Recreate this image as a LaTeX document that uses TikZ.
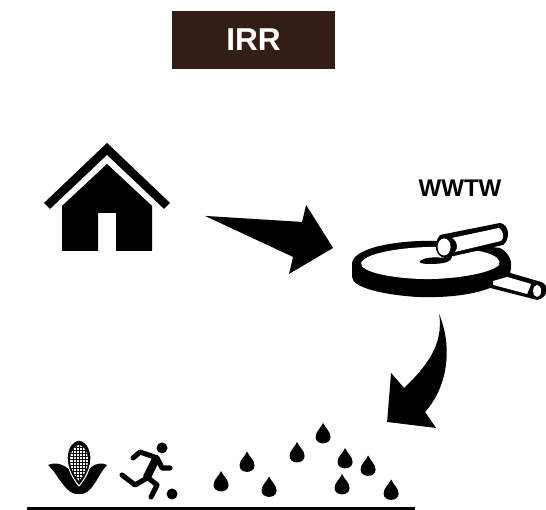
\documentclass[tikz,border=0pt]{standalone}
\usepackage{fontspec}
\setmainfont{Liberation Sans}
\definecolor{brownbox}{RGB}{51,30,22}
\newcommand{\px}[2]{({#1*0.02},{(510-#2)*0.02})}
\tikzset{
  titlebox/.style={fill=brownbox,text=white,font=\bfseries\fontsize{18}{18}\selectfont,minimum width=3.26cm,minimum height=1.16cm,inner sep=0pt},
  tag/.style={font=\bfseries\fontsize{13.7}{14}\selectfont,text=black,inner sep=0pt},
  limb/.style={draw=black,line width=2.9pt,line cap=round,line join=round},
  drop/.pic={\fill[black] (0,0.21) .. controls (0.04,0.11) and (0.15,0.04) .. (0.15,-0.07) .. controls (0.15,-0.24) and (-0.15,-0.24) .. (-0.15,-0.07) .. controls (-0.15,0.04) and (-0.04,0.11) .. (0,0.21) -- cycle;}
}
\begin{document}
\begin{tikzpicture}[x=1cm,y=1cm]
\useasboundingbox (0,0) rectangle (10.92,10.2);
\node[titlebox] (title) at (5.07,9.4) {IRR};
\node[tag] (wwtw) at (9.2,6.44) {WWTW};
% house
\fill[black] \px{44}{203} -- \px{107}{143} -- \px{170}{203} -- \px{164}{209} -- \px{107}{155} -- \px{50}{209} -- cycle;
\fill[black] \px{62}{206} -- \px{107}{164} -- \px{152}{206} -- \px{152}{251} -- \px{116}{251} -- \px{116}{213} -- \px{98}{213} -- \px{98}{251} -- \px{62}{251} -- cycle;
% arrow 1
\fill[black] \px{205}{216} -- \px{302}{222} -- \px{306}{205} -- \px{333}{248} -- \px{289}{274} -- \px{293}{257} -- cycle;
% tank
\fill[black] \px{352}{263} .. controls \px{354}{247} and \px{400}{240} .. \px{436}{241} -- \px{500}{248} .. controls \px{510}{254} and \px{513}{262} .. \px{510}{273} -- \px{541}{282} .. controls \px{548}{284} and \px{550}{297} .. \px{537}{300} -- \px{490}{288} .. controls \px{470}{296} and \px{440}{298} .. \px{417}{297} .. controls \px{385}{295} and \px{352}{288} .. \px{352}{277} -- cycle;
\fill[white] \px{361}{263} .. controls \px{365}{252} and \px{410}{246} .. \px{445}{247} .. controls \px{480}{249} and \px{503}{255} .. \px{499}{265} .. controls \px{490}{274} and \px{450}{280} .. \px{420}{279} .. controls \px{390}{278} and \px{360}{272} .. \px{361}{263} -- cycle;
% inlet pipe
\fill[black] \px{440}{235} .. controls \px{432}{245} and \px{436}{257} .. \px{445}{258} -- \px{503}{245} .. controls \px{510}{240} and \px{510}{225} .. \px{500}{223} -- cycle;
\fill[white] \px{452}{238} -- \px{499}{228} .. controls \px{504}{232} and \px{504}{238} .. \px{501}{241} -- \px{455}{252} .. controls \px{458}{248} and \px{458}{242} .. \px{452}{238} -- cycle;
\fill[white] \px{444}{247} ellipse [x radius=0.13,y radius=0.17];
\fill[black] \px{420}{261} .. controls \px{425}{257} and \px{435}{257} .. \px{445}{258} -- \px{452}{255} .. controls \px{452}{262} and \px{445}{264} .. \px{430}{264} .. controls \px{422}{264} and \px{418}{263} .. \px{420}{261} -- cycle;
% outlet pipe
\fill[white] \px{493}{281} -- \px{507}{277} -- \px{531}{284} -- \px{527}{294} -- \px{493}{285} -- cycle;
\fill[white] \px{537}{291} ellipse [x radius=0.08,y radius=0.12];
% arrow 2
\fill[black] \px{439}{314} .. controls \px{452}{345} and \px{449}{385} .. \px{425}{412} -- \px{436}{428} -- \px{387}{422} -- \px{391}{373} -- \px{404}{388} .. controls \px{425}{368} and \px{444}{345} .. \px{439}{314} -- cycle;
% corn leaves
\fill[black] \px{48}{465} .. controls \px{60}{460} and \px{72}{468} .. \px{79}{484} -- \px{79}{494} .. controls \px{66}{496} and \px{58}{474} .. \px{48}{465} -- cycle;
\fill[black] \px{107}{465} .. controls \px{97}{460} and \px{86}{468} .. \px{79}{484} -- \px{79}{494} .. controls \px{92}{496} and \px{98}{474} .. \px{107}{465} -- cycle;
% corn ear
\fill[black,draw=white,line width=0.6pt] \px{79}{440} .. controls \px{68}{441} and \px{59}{462} .. \px{79}{486} .. controls \px{99}{462} and \px{90}{441} .. \px{79}{440} -- cycle;
\fill[white] \px{79}{445} .. controls \px{72}{446} and \px{63}{462} .. \px{79}{481} .. controls \px{95}{462} and \px{86}{446} .. \px{79}{445} -- cycle;
\begin{scope}
\clip \px{79}{445} .. controls \px{72}{446} and \px{63}{462} .. \px{79}{481} .. controls \px{95}{462} and \px{86}{446} .. \px{79}{445} -- cycle;
\foreach \yy in {447,450,...,480} \draw[black,line width=0.3pt] \px{66}{\yy} -- \px{92}{\yy};
\foreach \xx in {73,76,79,82,85} \draw[black,line width=0.3pt] \px{\xx}{445} -- \px{\xx}{481};
\end{scope}
% runner
\fill[black] \px{162}{448} circle (0.11);
\draw[limb] \px{133}{458} -- \px{140}{452} -- \px{157}{458} -- \px{162}{468} -- \px{170}{468};
\draw[limb,line width=4.5pt] \px{156}{459} -- \px{147}{477};
\draw[limb] \px{147}{478} -- \px{135}{485} -- \px{122}{475};
\draw[limb] \px{147}{477} -- \px{157}{485} -- \px{151}{497};
\fill[black] \px{172}{494} circle (0.11);
% drops
\foreach \dx/\dy in {221/481.5,247/462,269/487,297/452.5,323/433.5,345/458.5,368/466,342/484.5,391/490}
  \pic at ({\dx*0.02},{(510-\dy)*0.02}) {drop};
% ground
\coordinate (g1) at (0.54,0.03);
\coordinate (g2) at (8.3,0.03);
\draw[black,line width=1.6pt] (g1) -- (g2);
\end{tikzpicture}
\end{document}
